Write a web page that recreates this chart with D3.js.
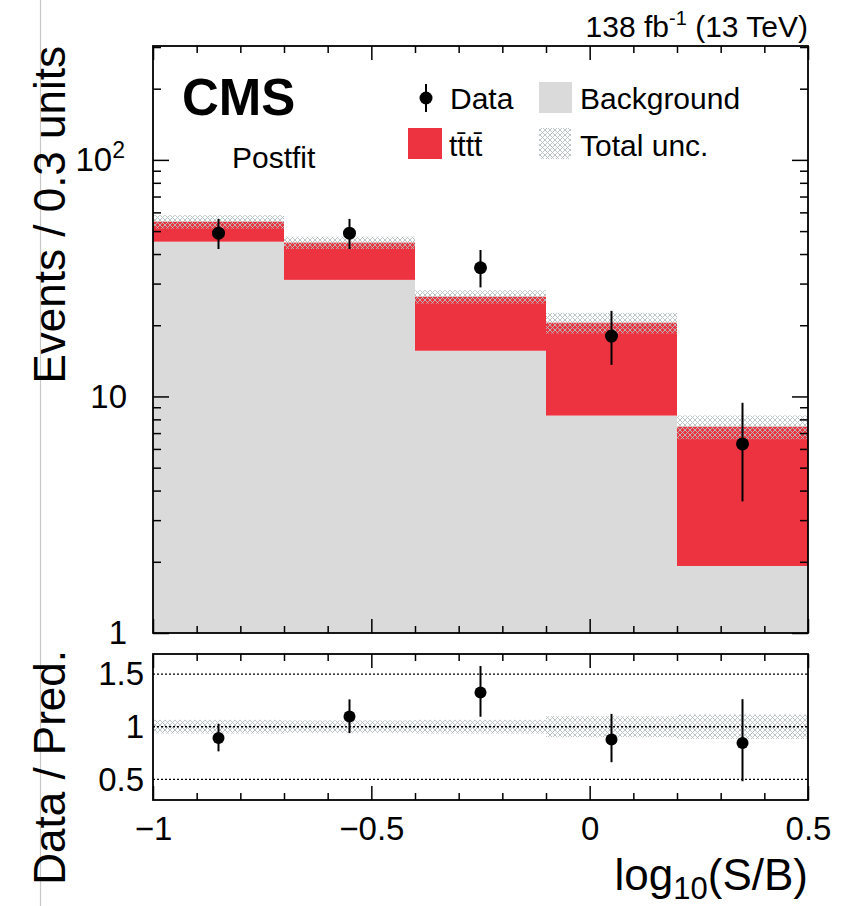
<!DOCTYPE html>
<html>
<head>
<meta charset="utf-8">
<script src="https://cdn.jsdelivr.net/npm/d3@7"></script>
<style>
  body { margin: 0; background: #fff; }
  svg { display: block; font-family: "Liberation Sans", Arial, Helvetica, sans-serif; }
</style>
</head>
<body>
<div id="chart"></div>
<script>
// bin edges in log10(S/B)
const binEdges = [-1, -0.7, -0.4, -0.1, 0.2, 0.5];
// postfit yields per bin
const background = [45.1, 31.1, 15.6, 8.3, 1.92];
const tttt = [9.7, 13.6, 10.8, 12.2, 5.53];
// relative total uncertainty of the prediction
const totalUnc = [0.065, 0.06, 0.065, 0.10, 0.115];
// observed data and its error bar ends
const dataCounts = [49, 49, 35, 18, 6.3];
const dataErrLow = [42.0, 42.0, 28.9, 13.6, 3.6];
const dataErrHigh = [56.3, 56.3, 41.6, 23.0, 9.4];
// axis ticks
const xTicks = [-1, -0.5, 0, 0.5];
const yTicks = [1, 10, 100];
const ratioTicks = [0.5, 1, 1.5];

const W = 851, H = 906;
const red = "#ee3340", grey = "#dadada", hatchCol = "#b4c0c0";

const svg = d3.select("#chart").append("svg")
  .attr("width", W).attr("height", H);

// scales
const x = d3.scaleLinear().domain([-1, 0.5]).range([153, 808]);
const y = d3.scaleLog().domain([1, 303]).range([633, 46]);
const yR = d3.scaleLinear().domain([0.305, 1.69]).range([800, 654]);

// hatch for the uncertainty band
const pat = svg.append("defs").append("pattern")
  .attr("id", "hatch")
  .attr("patternUnits", "userSpaceOnUse")
  .attr("width", 5).attr("height", 5);
pat.append("path")
  .attr("d", "M0,5 L5,0 M-1,1 L1,-1 M4,6 L6,4 M0,0 L5,5 M-1,4 L1,6 M4,-1 L6,1")
  .attr("stroke", hatchCol).attr("stroke-width", 0.9).attr("fill", "none");

// page edge line on the left
svg.append("line").attr("x1", 40.5).attr("x2", 40.5).attr("y1", 0).attr("y2", H)
  .attr("stroke", "#c8c8c8").attr("stroke-width", 1.2);

let bins = binEdges.slice(0, -1).map(function(lo, i) {
  let tot = background[i] + tttt[i];
  return {
    lo: lo, hi: binEdges[i + 1], mid: (lo + binEdges[i + 1]) / 2,
    bg: background[i], tot: tot, unc: totalUnc[i],
    d: dataCounts[i], dLo: dataErrLow[i], dHi: dataErrHigh[i]
  };
});

// ---------- main panel ----------
const main = svg.append("g");

main.selectAll("rect.bg").data(bins).enter().append("rect")
  .attr("class", "bg")
  .attr("x", d => x(d.lo)).attr("width", d => x(d.hi) - x(d.lo))
  .attr("y", d => y(d.bg)).attr("height", d => y(1) - y(d.bg))
  .attr("fill", grey);

main.selectAll("rect.sig").data(bins).enter().append("rect")
  .attr("class", "sig")
  .attr("x", d => x(d.lo)).attr("width", d => x(d.hi) - x(d.lo))
  .attr("y", d => y(d.tot)).attr("height", d => y(d.bg) - y(d.tot))
  .attr("fill", red);

main.selectAll("rect.unc").data(bins).enter().append("rect")
  .attr("class", "unc")
  .attr("x", d => x(d.lo)).attr("width", d => x(d.hi) - x(d.lo))
  .attr("y", d => y(d.tot * (1 + d.unc)))
  .attr("height", d => y(d.tot * (1 - d.unc)) - y(d.tot * (1 + d.unc)))
  .attr("fill", "url(#hatch)");

main.selectAll("line.err").data(bins).enter().append("line")
  .attr("class", "err")
  .attr("x1", d => x(d.mid)).attr("x2", d => x(d.mid))
  .attr("y1", d => y(d.dHi)).attr("y2", d => y(d.dLo))
  .attr("stroke", "#000").attr("stroke-width", 2);

main.selectAll("circle.pt").data(bins).enter().append("circle")
  .attr("class", "pt")
  .attr("cx", d => x(d.mid)).attr("cy", d => y(d.d)).attr("r", 6.5)
  .attr("fill", "#000");

// axes of the main panel (ticks inside)
let minorX = d3.range(-1, 0.5001, 0.1).map(v => +v.toFixed(2)).filter(v => xTicks.indexOf(v) < 0);
let minorY = y.ticks().filter(v => yTicks.indexOf(v) < 0);

function noDomain(g) { g.select(".domain").remove(); g.selectAll("line").attr("stroke", "#000").attr("stroke-width", 1.5); }

[[633, d3.axisBottom], [46, d3.axisTop]].forEach(function(a) {
  main.append("g").attr("transform", `translate(0,${a[0]})`)
    .call(a[1](x).tickValues(xTicks).tickSize(-14).tickFormat("")).call(noDomain);
  main.append("g").attr("transform", `translate(0,${a[0]})`)
    .call(a[1](x).tickValues(minorX).tickSize(-7).tickFormat("")).call(noDomain);
});

let yAxisG = main.append("g").attr("transform", "translate(153,0)")
  .call(d3.axisLeft(y).tickValues(yTicks).tickSize(-16).tickPadding(26).tickFormat(d => d === 100 ? "10" : d))
  .call(noDomain);
yAxisG.selectAll("text").attr("font-size", 33).attr("font-family", null).attr("fill", "#000");
yAxisG.selectAll("text").filter(d => d === 100)
  .attr("x", -28)
  .append("tspan").attr("dy", "-0.55em").attr("font-size", 23).text("2");
main.append("g").attr("transform", "translate(153,0)")
  .call(d3.axisLeft(y).tickValues(minorY).tickSize(-8).tickFormat("")).call(noDomain);
main.append("g").attr("transform", "translate(808,0)")
  .call(d3.axisRight(y).tickValues(yTicks).tickSize(-16).tickFormat("")).call(noDomain);
main.append("g").attr("transform", "translate(808,0)")
  .call(d3.axisRight(y).tickValues(minorY).tickSize(-8).tickFormat("")).call(noDomain);

main.append("rect").attr("x", 153).attr("y", 46).attr("width", 655).attr("height", 587)
  .attr("fill", "none").attr("stroke", "#000").attr("stroke-width", 1.8);

// ---------- ratio panel ----------
const rat = svg.append("g");

rat.selectAll("rect.runc").data(bins).enter().append("rect")
  .attr("class", "runc")
  .attr("x", d => x(d.lo)).attr("width", d => x(d.hi) - x(d.lo))
  .attr("y", d => yR(1 + d.unc)).attr("height", d => yR(1 - d.unc) - yR(1 + d.unc))
  .attr("fill", "url(#hatch)");

rat.selectAll("line.ref").data(ratioTicks).enter().append("line")
  .attr("class", "ref")
  .attr("x1", 153).attr("x2", 808)
  .attr("y1", d => yR(d)).attr("y2", d => yR(d))
  .attr("stroke", "#000").attr("stroke-width", 1.3).attr("stroke-dasharray", "2,2");

rat.selectAll("line.rerr").data(bins).enter().append("line")
  .attr("class", "rerr")
  .attr("x1", d => x(d.mid)).attr("x2", d => x(d.mid))
  .attr("y1", d => yR(d.dHi / d.tot)).attr("y2", d => yR(d.dLo / d.tot))
  .attr("stroke", "#000").attr("stroke-width", 2);

rat.selectAll("circle.rpt").data(bins).enter().append("circle")
  .attr("class", "rpt")
  .attr("cx", d => x(d.mid)).attr("cy", d => yR(d.d / d.tot)).attr("r", 6)
  .attr("fill", "#000");

[[800, d3.axisBottom], [654, d3.axisTop]].forEach(function(a) {
  rat.append("g").attr("transform", `translate(0,${a[0]})`)
    .call(a[1](x).tickValues(xTicks).tickSize(-14).tickFormat("")).call(noDomain);
  rat.append("g").attr("transform", `translate(0,${a[0]})`)
    .call(a[1](x).tickValues(minorX).tickSize(-7).tickFormat("")).call(noDomain);
});

let xLab = rat.append("g").attr("transform", "translate(0,800)")
  .call(d3.axisBottom(x).tickValues(xTicks).tickSize(0).tickPadding(17).tickFormat(d3.format("")))
  .call(noDomain);
xLab.selectAll("text").attr("font-size", 33).attr("font-family", null).attr("fill", "#000");

let yRLab = rat.append("g").attr("transform", "translate(153,0)")
  .call(d3.axisLeft(yR).tickValues(ratioTicks).tickSize(0).tickPadding(9).tickFormat(d3.format("")))
  .call(noDomain);
yRLab.selectAll("text").attr("font-size", 33).attr("font-family", null).attr("fill", "#000");

rat.append("rect").attr("x", 153).attr("y", 654).attr("width", 655).attr("height", 146)
  .attr("fill", "none").attr("stroke", "#000").attr("stroke-width", 1.8);

// ---------- titles ----------
svg.append("text")
  .attr("transform", "translate(65,46) rotate(-90)")
  .attr("text-anchor", "end").attr("font-size", 44)
  .text("Events / 0.3 units");

svg.append("text")
  .attr("transform", "translate(65,650) rotate(-90)")
  .attr("text-anchor", "end").attr("font-size", 44)
  .text("Data / Pred.");

let xt = svg.append("text").attr("x", 808).attr("y", 890)
  .attr("text-anchor", "end").attr("font-size", 44);
xt.append("tspan").text("log");
xt.append("tspan").attr("font-size", 31).attr("dy", 9).text("10");
xt.append("tspan").attr("dy", -9).text("(S/B)");

let lumi = svg.append("text").attr("x", 808).attr("y", 37)
  .attr("text-anchor", "end").attr("font-size", 30);
lumi.append("tspan").text("138 fb");
lumi.append("tspan").attr("font-size", 20).attr("dy", -12).text("-1");
lumi.append("tspan").attr("dy", 12).text(" (13 TeV)");

svg.append("text").attr("x", 182).attr("y", 115)
  .attr("font-size", 51).attr("font-weight", "bold").text("CMS");
svg.append("text").attr("x", 232).attr("y", 168)
  .attr("font-size", 30).text("Postfit");

// ---------- legend ----------
const leg = svg.append("g");
leg.append("line").attr("x1", 426).attr("x2", 426).attr("y1", 84).attr("y2", 112)
  .attr("stroke", "#000").attr("stroke-width", 2);
leg.append("circle").attr("cx", 426).attr("cy", 98).attr("r", 6.5).attr("fill", "#000");
leg.append("text").attr("x", 450).attr("y", 109).attr("font-size", 30).text("Data");

leg.append("rect").attr("x", 539).attr("y", 82).attr("width", 33).attr("height", 31).attr("fill", grey);
leg.append("text").attr("x", 580).attr("y", 109).attr("font-size", 30).text("Background");

leg.append("rect").attr("x", 408).attr("y", 128).attr("width", 34).attr("height", 31).attr("fill", red);
leg.append("text").attr("x", 449).attr("y", 156).attr("font-size", 30).text("tt\u0304tt\u0304");

leg.append("rect").attr("x", 539).attr("y", 128).attr("width", 32).attr("height", 31).attr("fill", "url(#hatch)");
leg.append("text").attr("x", 580).attr("y", 156).attr("font-size", 30).text("Total unc.");
</script>
</body>
</html>
